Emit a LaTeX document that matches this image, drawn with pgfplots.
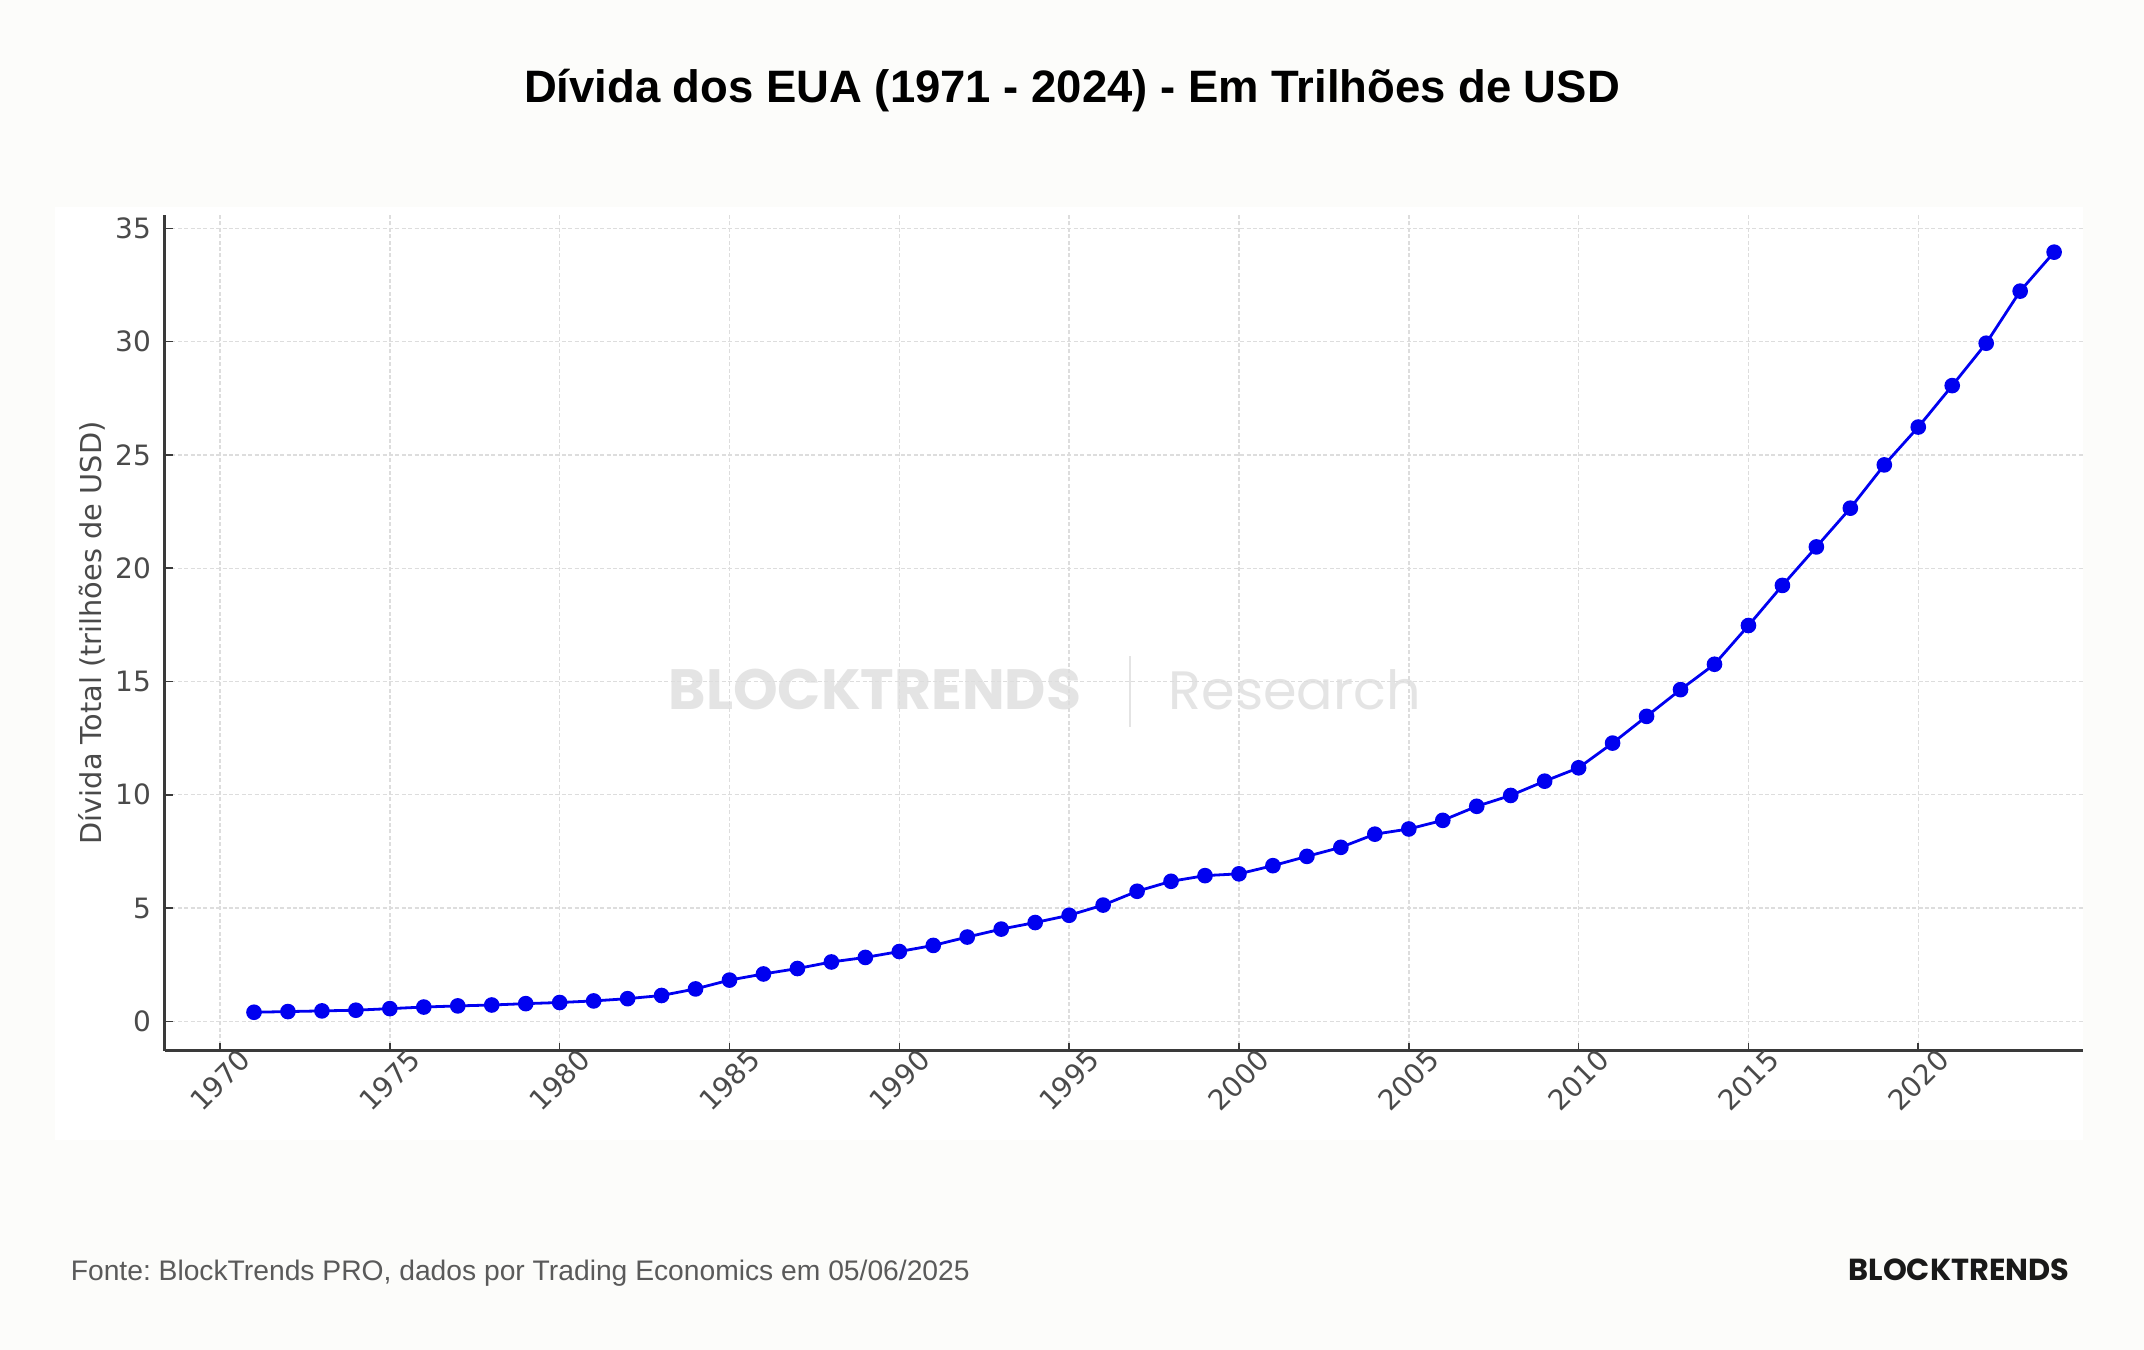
\documentclass[border=0pt]{standalone}
\usepackage{pgfplots}
\pgfplotsset{compat=1.18}
\usepackage{fontspec}
\setmainfont{Liberation Sans}
\newfontfamily\dejavu{DejaVu Sans}
\newfontfamily\poppins{Poppins}
\frenchspacing

\definecolor{pagebg}{HTML}{FCFCFA}
\definecolor{ticktext}{HTML}{4A4A4A}
\definecolor{spine}{HTML}{3A3A3A}
\definecolor{gridc}{HTML}{DDDDDD}
\definecolor{wmark}{HTML}{E4E4E4}
\definecolor{footgray}{HTML}{5A5A5A}
\definecolor{debtblue}{HTML}{0000F0}

\pgfplotstableread{
year debt
1971 0.40
1972 0.43
1973 0.46
1974 0.49
1975 0.56
1976 0.63
1977 0.68
1978 0.72
1979 0.78
1980 0.83
1981 0.90
1982 1.00
1983 1.14
1984 1.43
1985 1.82
1986 2.09
1987 2.33
1988 2.62
1989 2.82
1990 3.08
1991 3.35
1992 3.72
1993 4.07
1994 4.36
1995 4.68
1996 5.13
1997 5.74
1998 6.18
1999 6.43
2000 6.51
2001 6.87
2002 7.28
2003 7.68
2004 8.26
2005 8.49
2006 8.87
2007 9.49
2008 9.97
2009 10.60
2010 11.19
2011 12.28
2012 13.46
2013 14.64
2014 15.76
2015 17.47
2016 19.24
2017 20.94
2018 22.65
2019 24.56
2020 26.23
2021 28.06
2022 29.93
2023 32.23
2024 33.95
}\debttable

\begin{document}
\begin{tikzpicture}
% page and chart panel
\fill[pagebg] (0pt,0pt) rectangle (536pt,337.5pt);
\fill[white] (13.75pt,52.5pt) rectangle (520.75pt,285.75pt);

% watermark
\node[anchor=base west, inner sep=0pt, text=wmark, font=\poppins\bfseries\fontsize{14.2}{16}\selectfont] at (167pt,160pt) {BLOCKTRENDS};
\draw[wmark, line width=0.5pt] (282.5pt,155.75pt) -- (282.5pt,173.5pt);
\node[anchor=base west, inner sep=0pt, text=wmark, font=\poppins\fontsize{13.5}{16}\selectfont] at (292pt,160pt) {Research};

\begin{axis}[
  scale only axis,
  width=479.5pt, height=209pt,
  at={(41.25pt,74.75pt)}, anchor=south west,
  xmin=1968.38, xmax=2024.85,
  ymin=-1.31, ymax=35.59,
  axis lines=left,
  axis line style={-, draw=spine, line width=0.75pt},
  xtick={1970,1975,...,2020},
  ytick={0,5,...,35},
  tick align=inside,
  major tick length=2pt,
  tick style={draw=spine, line width=0.4pt},
  grid=major,
  grid style={draw=gridc, line width=0.35pt, dash pattern=on 1pt off 0.6pt},
  /pgf/number format/assume math mode=true,
  /pgf/number format/1000 sep={},
  ticklabel style={font=\dejavu\fontsize{7}{8}\selectfont, text=ticktext},
  x tick label style={rotate=45, anchor=center},
  xticklabel shift=7.3pt,
  ylabel={Dívida Total (trilhões de USD)},
  ylabel style={at={(axis description cs:-0.0381,0.5)}, anchor=center, font=\dejavu\fontsize{7.2}{8}\selectfont, text=ticktext},
  clip=false,
]
\addplot[color=debtblue, line width=0.7pt, mark=*, mark size=1.6pt, mark options={solid, fill=debtblue, draw=debtblue}]
  table[x=year, y=debt] {\debttable};
\end{axis}

% title and footer
\node[anchor=base, inner sep=0pt, font=\bfseries\fontsize{11.36}{13}\selectfont] at (268pt,311.75pt) {Dívida dos EUA (1971 - 2024) - Em Trilhões de USD};
\node[anchor=base west, inner sep=0pt, text=footgray, font=\fontsize{7.06}{8}\selectfont] at (17.5pt,17.25pt) {Fonte: BlockTrends PRO, dados por Trading Economics em 05/06/2025};
\node[anchor=base east, inner sep=0pt, text=black!90, font=\poppins\bfseries\fontsize{7.6}{9}\selectfont] at (517.5pt,17.25pt) {BLOCKTRENDS};
\end{tikzpicture}
\end{document}
